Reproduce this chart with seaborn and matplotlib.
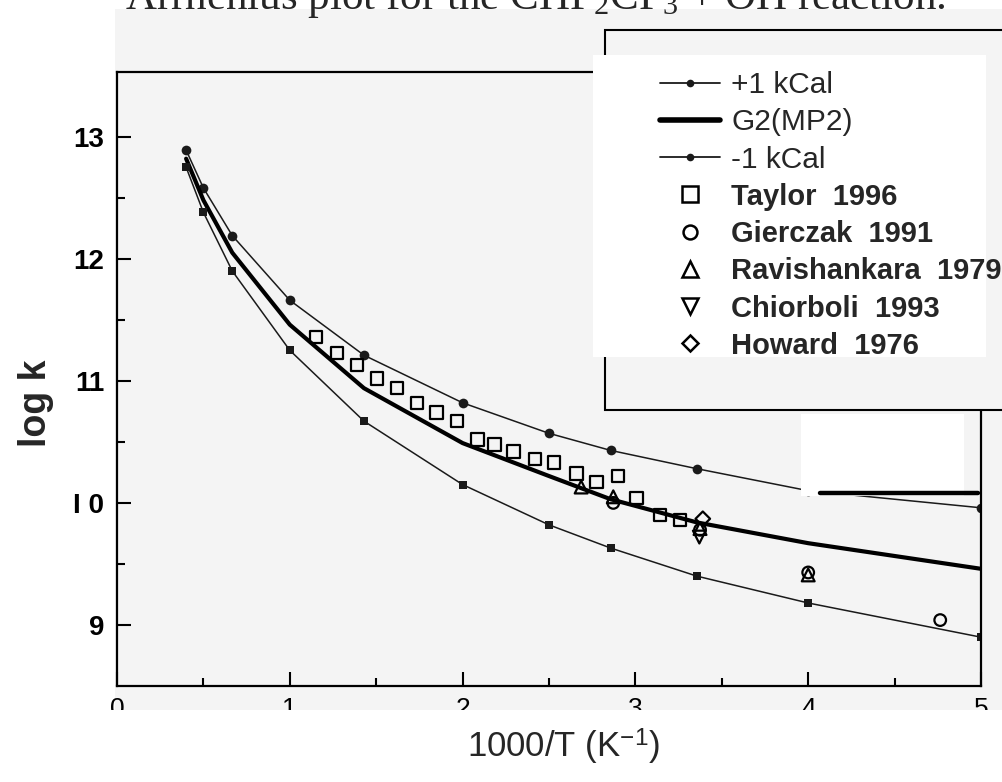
import numpy as np
import pandas as pd
import matplotlib
matplotlib.use("Agg")
import matplotlib.pyplot as plt
import seaborn as sns
from matplotlib.patches import Rectangle
from matplotlib.lines import Line2D

# ---------------- data ----------------
inv_T = [0.4, 0.5, 0.667, 1.0, 1.429, 2.0, 2.5, 2.857, 3.356, 4.0, 5.0]
logk_upper = [12.89, 12.58, 12.19, 11.66, 11.21, 10.82, 10.57, 10.43, 10.28, 10.10, 9.96]
logk_g2 = [12.82, 12.48, 12.05, 11.46, 10.94, 10.49, 10.22, 10.03, 9.84, 9.67, 9.46]
logk_lower = [12.75, 12.38, 11.90, 11.25, 10.67, 10.15, 9.82, 9.63, 9.40, 9.18, 8.90]

taylor_x = [1.153, 1.273, 1.389, 1.504, 1.62, 1.735, 1.848, 1.966, 2.087, 2.185,
            2.295, 2.42, 2.53, 2.66, 2.775, 2.90, 3.007, 3.142, 3.258]
taylor_y = [11.36, 11.23, 11.13, 11.02, 10.94, 10.82, 10.74, 10.67, 10.52, 10.48,
            10.42, 10.36, 10.33, 10.24, 10.17, 10.22, 10.04, 9.90, 9.86]
gierczak_x = [2.872, 3.374, 4.0, 4.764]
gierczak_y = [10.00, 9.78, 9.43, 9.04]
ravi_x = [2.686, 2.872, 3.374, 4.0]
ravi_y = [10.13, 10.05, 9.79, 9.41]
chiorboli_x = [3.37]
chiorboli_y = [9.72]
howard_x = [3.39]
howard_y = [9.87]

legend_labels = ["+1 kCal", "G2(MP2)", "-1 kCal", "Taylor  1996", "Gierczak  1991",
                 "Ravishankara  1979", "Chiorboli  1993", "Howard  1976"]
xtick_vals = [0, 1, 2, 3, 4, 5]
ytick_vals = [9, 10, 11, 12, 13]
ytick_labels = ["9", "I 0", "11", "12", "13"]

# ---------------- style ----------------
sns.set_style("ticks")
plt.rcParams.update({
    "axes.edgecolor": "black", "xtick.color": "black", "ytick.color": "black",
    "mathtext.fontset": "custom", "mathtext.rm": "Liberation Serif",
    "mathtext.it": "Liberation Serif:italic", "mathtext.bf": "Liberation Serif:bold",
    "mathtext.sf": "Liberation Sans",
})
plt.rcParams["font.family"] = ["Liberation Sans", "DejaVu Sans"]

W, H = 1003, 782
fig = plt.figure(figsize=(W / 100, H / 100), dpi=100, facecolor="white")


def fx(x):
    return x / W


def fy(y):
    return 1 - y / H


GRAY = "#f4f4f4"
fig.add_artist(Rectangle((fx(115), fy(710)), 1 - fx(115), fy(9) - fy(710),
                         transform=fig.transFigure, facecolor=GRAY,
                         edgecolor="none", zorder=-1))

ax = fig.add_axes([fx(117), fy(686), fx(981) - fx(117), fy(72) - fy(686)])
ax.set_facecolor(GRAY)

# ---------------- lines ----------------
sns.lineplot(x=inv_T, y=logk_upper, ax=ax, color="#1a1a1a", lw=1.1, marker="o",
             markersize=7, markeredgewidth=0, sort=False, estimator=None)
sns.lineplot(x=inv_T, y=logk_g2, ax=ax, color="black", lw=3.0, sort=False,
             estimator=None)
sns.lineplot(x=inv_T, y=logk_lower, ax=ax, color="#1a1a1a", lw=1.1, marker="s",
             markersize=6, markeredgewidth=0, sort=False, estimator=None)


def hollow(x, y, m, s):
    sns.scatterplot(x=x, y=y, marker=m, s=s, facecolor="none", edgecolor="black",
                    linewidth=1.6, ax=ax, zorder=4, legend=False)


hollow(taylor_x, taylor_y, "s", 80)
hollow(gierczak_x, gierczak_y, "o", 70)
hollow(ravi_x, ravi_y, "^", 85)
hollow(chiorboli_x, chiorboli_y, "v", 85)
hollow(howard_x, howard_y, "D", 55)

# ---------------- axes ----------------
ax.set_xlim(0, 5)
ax.set_ylim(8.5, 13.53)
ax.set_xticks(xtick_vals)
ax.set_xticks(np.arange(0.5, 5, 1.0), minor=True)
ax.set_yticks(ytick_vals)
ax.set_yticks([9.5, 10.5, 11.5, 12.5], minor=True)
ax.set_xticklabels([str(v) for v in xtick_vals], fontsize=19,
                   family=["Liberation Sans Narrow", "Liberation Sans"])
ax.set_yticklabels(ytick_labels, fontsize=20, fontweight="bold", family="Liberation Sans")
ax.tick_params(which="both", direction="in", width=1.5, top=False, right=False)
ax.tick_params(which="major", length=10)
ax.tick_params(which="minor", length=5.5)
ax.tick_params(axis="x", pad=8)
ax.tick_params(axis="y", pad=9)
for s in ax.spines.values():
    s.set_visible(True)
    s.set_linewidth(1.6)
ax.set_xlabel("")
ax.set_ylabel("")

# ---------------- overlays (scan artefacts) ----------------
def cover(x0, y0, x1, y1, fc, ec="none", lw=0, z=10):
    r = Rectangle((fx(x0), fy(y1)), fx(x1) - fx(x0), fy(y0) - fy(y1),
                  transform=fig.transFigure, facecolor=fc, edgecolor=ec,
                  linewidth=lw, zorder=z, clip_on=False)
    ax.add_patch(r)


cover(605, 30, 1015, 410, GRAY, ec="black", lw=1.5, z=10)
cover(593, 55, 986, 357, "white", z=11)
cover(801, 414, 964, 496, "white", z=11)
ax.add_line(Line2D([fx(820), fx(978)], [fy(493), fy(493)], transform=fig.transFigure,
                   color="black", lw=3.2, zorder=12, clip_on=False))
cover(-5, 710, 1010, 790, "white", z=20)

# ---------------- legend ----------------
handles = [
    Line2D([], [], color="#1a1a1a", lw=1.3, marker="o", ms=5.5, mew=0),
    Line2D([], [], color="black", lw=4),
    Line2D([], [], color="#1a1a1a", lw=1.3, marker="o", ms=5.5, mew=0),
    Line2D([], [], ls="none", marker="s", ms=11, mfc="none", mec="black", mew=1.8),
    Line2D([], [], ls="none", marker="o", ms=10, mfc="none", mec="black", mew=1.8),
    Line2D([], [], ls="none", marker="^", ms=11, mfc="none", mec="black", mew=1.8),
    Line2D([], [], ls="none", marker="v", ms=11, mfc="none", mec="black", mew=1.8),
    Line2D([], [], ls="none", marker="D", ms=8.5, mfc="none", mec="black", mew=1.8),
]
leg = ax.legend(handles, legend_labels, loc="upper left",
                bbox_to_anchor=(fx(660), fy(71)), bbox_transform=fig.transFigure,
                frameon=False, borderpad=0, borderaxespad=0, handlelength=2.0,
                handletextpad=0.38, labelspacing=0.31,
                prop={"family": "Liberation Sans", "size": 21.5})
leg.set_zorder(30)
for t in leg.get_texts()[3:]:
    t.set_fontweight("bold")
    t.set_fontsize(21)

# ---------------- texts ----------------
fig.text(fx(125), fy(9), "Arrhenius plot for the CHF$_2$CF$_3$ + OH reaction.",
         family="Liberation Serif", fontsize=31, ha="left", va="baseline")
fig.text(fx(563), fy(758), r"1000/T (K$^{\mathsf{-1}}$)", family="Liberation Sans",
         fontsize=25, ha="center", va="baseline")
fig.text(fx(36), fy(403), "log k", rotation=90, ha="center", va="center",
         fontsize=27, fontweight="bold", family="Liberation Sans")

fig.savefig("out.png", dpi=100, facecolor="white")
